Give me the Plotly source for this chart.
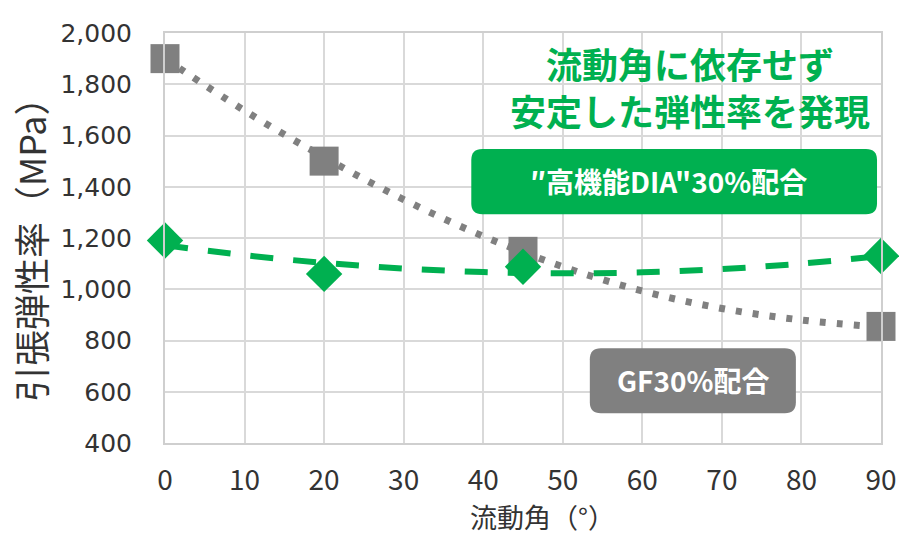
import plotly.graph_objects as go

# ---- data ----
ANGLE = [0, 20, 45, 90]
GF30 = [1900, 1500, 1148, 855]
DIA30 = [1190, 1060, 1088, 1130]

TREND_X = [0, 10, 20, 30, 40, 50, 60, 70, 80, 90]
GF30_TREND = [1900, 1697, 1515, 1350, 1207, 1088, 993, 925, 880, 852]
DIA30_TREND = [1172, 1133, 1103, 1081, 1067, 1062, 1066, 1079, 1100, 1130]

X_TICKS = [0, 10, 20, 30, 40, 50, 60, 70, 80, 90]
Y_TICKS = [400, 600, 800, 1000, 1200, 1400, 1600, 1800, 2000]

HEADLINE = "流動角に依存せず<br>安定した弾性率を発現"
DIA_LABEL = "″高機能DIA\"30%配合"
GF_LABEL = "GF30%配合"
X_TITLE = "流動角（°）"
Y_TITLE = "引張弾性率（MPa）"

GREEN = "#00B050"
GRAY = "#808080"
CJK = "Noto Sans CJK JP"

W, H = 899, 535
ML, MR, MT, MB = 165, 18, 33, 92
PW, PH = W - ML - MR, H - MT - MB
XR, YR = [0, 90], [400, 2000]
XS = PW / (XR[1] - XR[0])
YS = PH / (YR[1] - YR[0])


def rounded_rect(x0, x1, y0, y1, r_px):
    rx, ry = r_px / XS, r_px / YS
    return (f"M {x0+rx},{y1} L {x1-rx},{y1} Q {x1},{y1} {x1},{y1-ry} "
            f"L {x1},{y0+ry} Q {x1},{y0} {x1-rx},{y0} L {x0+rx},{y0} "
            f"Q {x0},{y0} {x0},{y0+ry} L {x0},{y1-ry} Q {x0},{y1} {x0+rx},{y1} Z")


fig = go.Figure()

fig.add_trace(go.Scatter(
    x=TREND_X, y=GF30_TREND, mode="lines", line_shape="spline",
    line=dict(color=GRAY, width=7, dash="6px,11px"),
    hoverinfo="skip", showlegend=False, cliponaxis=False))
fig.add_trace(go.Scatter(
    x=ANGLE, y=GF30, mode="markers",
    marker=dict(symbol="square", size=29, color=GRAY, line=dict(width=0)),
    showlegend=False, cliponaxis=False))
fig.add_trace(go.Scatter(
    x=TREND_X, y=DIA30_TREND, mode="lines", line_shape="spline",
    line=dict(color=GREEN, width=6, dash="23px,20px"),
    hoverinfo="skip", showlegend=False, cliponaxis=False))
fig.add_trace(go.Scatter(
    x=ANGLE, y=DIA30, mode="markers",
    marker=dict(symbol="diamond", size=28, color=GREEN, line=dict(width=0)),
    showlegend=False, cliponaxis=False))

# label boxes
fig.add_shape(type="path", xref="x", yref="y", layer="above",
              path=rounded_rect(38.5, 89.5, 1293, 1547, 11),
              fillcolor=GREEN, line=dict(width=0))
fig.add_shape(type="path", xref="x", yref="y", layer="above",
              path=rounded_rect(53.4, 79.3, 516, 770, 11),
              fillcolor=GRAY, line=dict(width=0))

fig.add_annotation(x=63.3, y=1422, xref="x", yref="y", text=DIA_LABEL,
                   xanchor="center", yanchor="middle",
                   showarrow=False, font=dict(family=CJK, size=28, color="white", weight="bold"))
fig.add_annotation(x=66.4, y=644, xref="x", yref="y", text=GF_LABEL,
                   xanchor="center", yanchor="middle",
                   showarrow=False, font=dict(family=CJK, size=28, color="white", weight="bold"))
fig.add_annotation(x=66.0, y=1790, xref="x", yref="y", text=HEADLINE,
                   xanchor="center", yanchor="middle",
                   showarrow=False, align="center",
                   font=dict(family=CJK, size=36, color=GREEN, weight="bold"))

# axis titles
fig.add_annotation(x=38.1, xref="x", xanchor="left", y=(H - MB - 516) / PH, yref="paper",
                   yanchor="middle", text=X_TITLE, showarrow=False,
                   font=dict(family=CJK, size=27, color="#333333"))
fig.add_annotation(x=(30 - ML) / PW, xref="paper", xanchor="center",
                   y=(H - MB - 241) / PH, yref="paper", yanchor="middle",
                   text=Y_TITLE, textangle=-90, showarrow=False,
                   font=dict(family=CJK, size=36, color="#333333"))

fig.update_xaxes(range=XR, tickvals=X_TICKS, showgrid=True, gridcolor="#d9d9d9",
                 gridwidth=1.5, zeroline=False, showline=True, linecolor="#cfcfcf",
                 linewidth=2, mirror=True, ticks="", ticklabelstandoff=11,
                 automargin=False,
                 tickfont=dict(family=CJK, size=28, color="#333333"))
fig.update_yaxes(range=YR, tickvals=Y_TICKS, tickformat=",d", showgrid=True,
                 gridcolor="#d9d9d9", gridwidth=1.5, zeroline=False, showline=True,
                 linecolor="#cfcfcf", linewidth=2, mirror=True, ticks="",
                 ticklabelstandoff=26, automargin=False,
                 tickfont=dict(family="DejaVu Sans", size=25, color="#333333"))

fig.update_layout(width=W, height=H, margin=dict(l=ML, r=MR, t=MT, b=MB, autoexpand=False),
                  plot_bgcolor="white", paper_bgcolor="white", showlegend=False)

fig.write_html("out.html")
